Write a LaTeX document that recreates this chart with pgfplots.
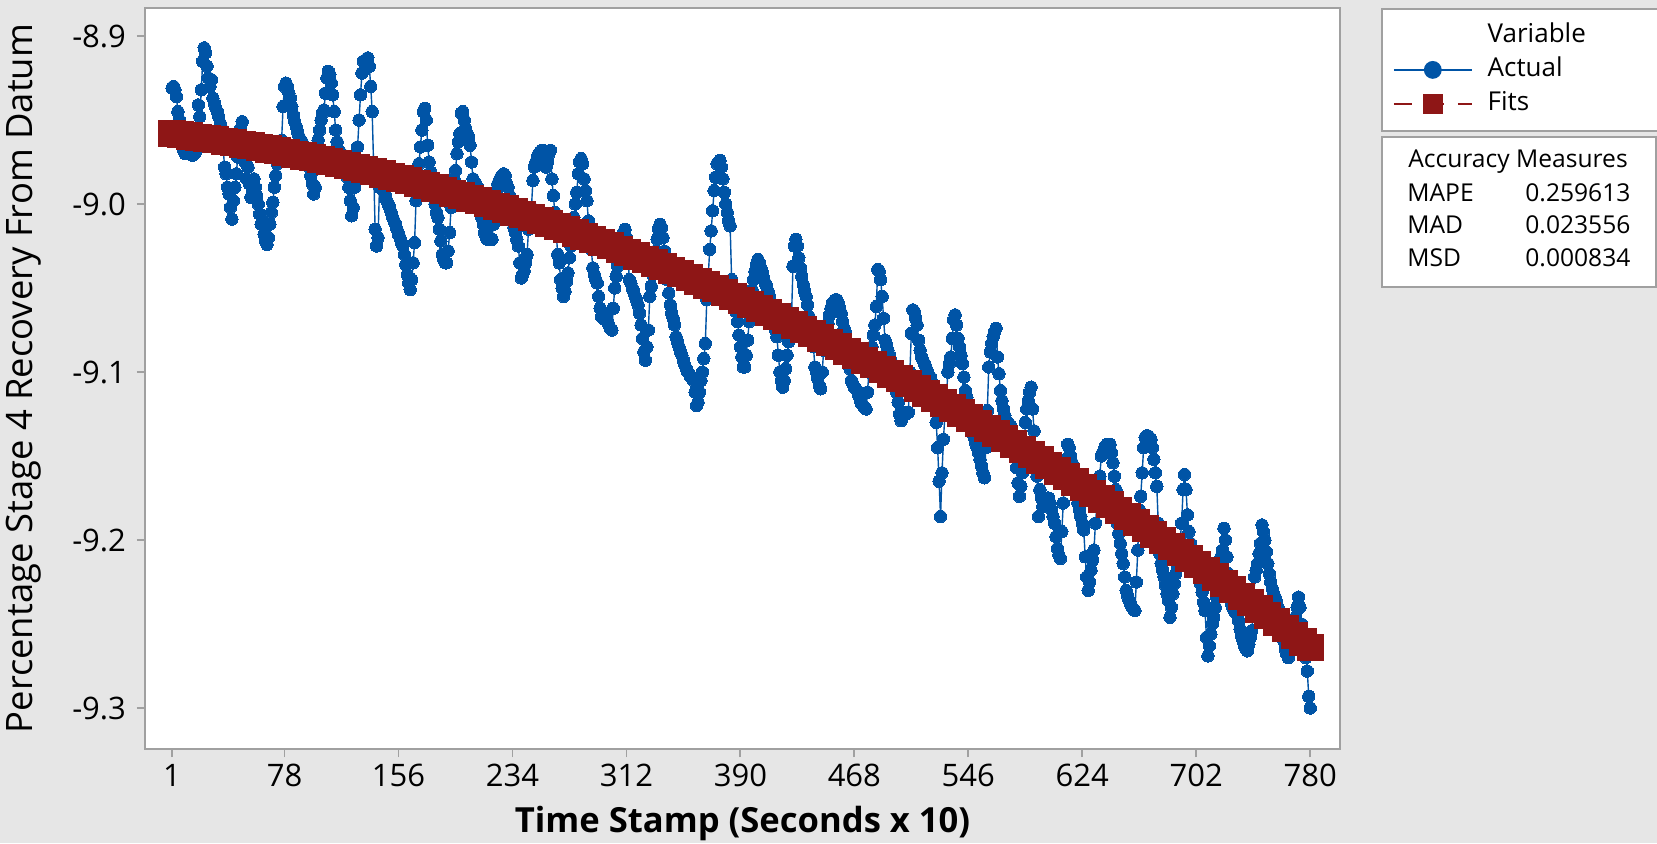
\documentclass[border=0pt]{standalone}
\usepackage{pgfplots}
\pgfplotsset{compat=1.18}
\usepackage{pgfplotstable}
\usepackage{fontspec}
\setmainfont{Open Sans}
\definecolor{bgc}{RGB}{230,230,230}
\definecolor{frm}{RGB}{160,160,160}
\definecolor{mtblue}{RGB}{0,84,166}
\definecolor{mtred}{RGB}{142,22,22}

\pgfplotstableread[header=false,row sep=\\]{
-8.931\\ -8.930\\ -8.932\\ -8.936\\ -8.945\\ -8.950\\ -8.955\\ -8.962\\ -8.968\\ -8.970\\
-8.970\\ -8.969\\ -8.968\\ -8.970\\ -8.971\\ -8.970\\ -8.969\\ -8.962\\ -8.941\\ -8.948\\
-8.932\\ -8.915\\ -8.907\\ -8.910\\ -8.918\\ -8.925\\ -8.930\\ -8.926\\ -8.937\\ -8.940\\
-8.943\\ -8.945\\ -8.948\\ -8.952\\ -8.955\\ -8.967\\ -8.978\\ -8.982\\ -8.990\\ -8.994\\
-9.002\\ -9.009\\ -8.998\\ -8.990\\ -8.982\\ -8.972\\ -8.962\\ -8.955\\ -8.951\\ -8.960\\
-8.975\\ -8.985\\ -8.978\\ -8.988\\ -8.996\\ -8.992\\ -8.985\\ -8.990\\ -8.995\\ -9.000\\
-9.006\\ -9.012\\ -9.010\\ -9.018\\ -9.022\\ -9.024\\ -9.020\\ -9.012\\ -9.005\\ -8.999\\
-8.990\\ -8.983\\ -8.976\\ -8.970\\ -8.965\\ -8.962\\ -8.942\\ -8.930\\ -8.928\\ -8.930\\
-8.934\\ -8.937\\ -8.942\\ -8.947\\ -8.951\\ -8.954\\ -8.957\\ -8.960\\ -8.962\\ -8.963\\
-8.965\\ -8.967\\ -8.968\\ -8.972\\ -8.978\\ -8.983\\ -8.988\\ -8.994\\ -8.990\\ -8.975\\
-8.962\\ -8.956\\ -8.950\\ -8.946\\ -8.944\\ -8.934\\ -8.925\\ -8.921\\ -8.923\\ -8.928\\
-8.935\\ -8.945\\ -8.956\\ -8.963\\ -8.968\\ -8.970\\ -8.970\\ -8.972\\ -8.976\\ -8.980\\
-8.984\\ -8.990\\ -8.998\\ -9.007\\ -9.002\\ -8.990\\ -8.980\\ -8.966\\ -8.950\\ -8.935\\
-8.922\\ -8.915\\ -8.920\\ -8.914\\ -8.913\\ -8.918\\ -8.930\\ -8.945\\ -8.978\\ -9.015\\
-9.025\\ -9.020\\ -8.990\\ -8.985\\ -8.988\\ -8.992\\ -8.995\\ -8.998\\ -9.000\\ -9.002\\
-9.005\\ -9.008\\ -9.010\\ -9.012\\ -9.015\\ -9.018\\ -9.020\\ -9.023\\ -9.025\\ -9.030\\
-9.036\\ -9.042\\ -9.047\\ -9.051\\ -9.045\\ -9.035\\ -9.023\\ -8.998\\ -8.985\\ -8.976\\
-8.966\\ -8.956\\ -8.945\\ -8.943\\ -8.950\\ -8.965\\ -8.975\\ -8.981\\ -8.986\\ -8.995\\
-9.000\\ -9.005\\ -9.008\\ -9.015\\ -9.022\\ -9.030\\ -9.033\\ -9.035\\ -9.035\\ -9.028\\
-9.017\\ -9.002\\ -8.992\\ -8.985\\ -8.980\\ -8.970\\ -8.963\\ -8.958\\ -8.946\\ -8.945\\
-8.950\\ -8.955\\ -8.958\\ -8.960\\ -8.965\\ -8.975\\ -8.985\\ -8.990\\ -8.988\\ -8.990\\
-8.998\\ -9.004\\ -9.008\\ -9.012\\ -9.017\\ -9.020\\ -9.021\\ -9.020\\ -9.021\\ -9.021\\
-9.012\\ -9.000\\ -8.992\\ -8.988\\ -8.986\\ -8.984\\ -8.983\\ -8.982\\ -8.983\\ -8.988\\
-8.990\\ -8.995\\ -9.005\\ -9.010\\ -9.014\\ -9.017\\ -9.021\\ -9.025\\ -9.035\\ -9.044\\
-9.042\\ -9.040\\ -9.035\\ -9.030\\ -9.015\\ -9.008\\ -9.002\\ -8.986\\ -8.978\\ -8.975\\
-8.972\\ -8.970\\ -8.969\\ -8.968\\ -8.968\\ -8.972\\ -8.978\\ -8.975\\ -8.970\\ -8.968\\
-8.985\\ -8.995\\ -9.005\\ -9.018\\ -9.030\\ -9.035\\ -9.045\\ -9.050\\ -9.055\\ -9.052\\
-9.046\\ -9.041\\ -9.032\\ -9.025\\ -9.015\\ -9.008\\ -9.000\\ -8.993\\ -8.982\\ -8.975\\
-8.973\\ -8.976\\ -8.985\\ -8.992\\ -8.998\\ -9.010\\ -9.018\\ -9.027\\ -9.038\\ -9.042\\
-9.045\\ -9.047\\ -9.055\\ -9.062\\ -9.067\\ -9.068\\ -9.066\\ -9.068\\ -9.070\\ -9.072\\
-9.074\\ -9.075\\ -9.062\\ -9.050\\ -9.043\\ -9.037\\ -9.030\\ -9.025\\ -9.021\\ -9.017\\
-9.015\\ -9.020\\ -9.030\\ -9.045\\ -9.047\\ -9.050\\ -9.052\\ -9.055\\ -9.057\\ -9.060\\
-9.065\\ -9.072\\ -9.080\\ -9.088\\ -9.093\\ -9.085\\ -9.075\\ -9.055\\ -9.049\\ -9.042\\
-9.035\\ -9.028\\ -9.021\\ -9.015\\ -9.012\\ -9.014\\ -9.020\\ -9.028\\ -9.035\\ -9.045\\
-9.053\\ -9.060\\ -9.065\\ -9.068\\ -9.072\\ -9.079\\ -9.082\\ -9.085\\ -9.088\\ -9.090\\
-9.093\\ -9.096\\ -9.098\\ -9.100\\ -9.101\\ -9.103\\ -9.104\\ -9.105\\ -9.112\\ -9.120\\
-9.118\\ -9.112\\ -9.105\\ -9.100\\ -9.092\\ -9.083\\ -9.057\\ -9.043\\ -9.027\\ -9.016\\
-9.004\\ -8.992\\ -8.984\\ -8.976\\ -8.975\\ -8.974\\ -8.978\\ -8.985\\ -8.993\\ -9.000\\
-9.005\\ -9.010\\ -9.013\\ -9.045\\ -9.052\\ -9.058\\ -9.064\\ -9.070\\ -9.078\\ -9.085\\
-9.091\\ -9.097\\ -9.097\\ -9.090\\ -9.081\\ -9.070\\ -9.060\\ -9.051\\ -9.045\\ -9.040\\
-9.036\\ -9.033\\ -9.035\\ -9.038\\ -9.041\\ -9.044\\ -9.047\\ -9.049\\ -9.052\\ -9.055\\
-9.061\\ -9.066\\ -9.070\\ -9.075\\ -9.079\\ -9.090\\ -9.100\\ -9.105\\ -9.109\\ -9.105\\
-9.098\\ -9.090\\ -9.082\\ -9.074\\ -9.067\\ -9.037\\ -9.025\\ -9.021\\ -9.025\\ -9.032\\
-9.038\\ -9.043\\ -9.048\\ -9.052\\ -9.055\\ -9.060\\ -9.067\\ -9.070\\ -9.071\\ -9.085\\
-9.097\\ -9.100\\ -9.104\\ -9.108\\ -9.110\\ -9.100\\ -9.087\\ -9.080\\ -9.075\\ -9.071\\
-9.066\\ -9.062\\ -9.059\\ -9.058\\ -9.057\\ -9.057\\ -9.059\\ -9.062\\ -9.065\\ -9.070\\
-9.074\\ -9.077\\ -9.082\\ -9.090\\ -9.098\\ -9.105\\ -9.107\\ -9.109\\ -9.110\\ -9.111\\
-9.114\\ -9.117\\ -9.119\\ -9.120\\ -9.121\\ -9.122\\ -9.112\\ -9.100\\ -9.092\\ -9.085\\
-9.078\\ -9.072\\ -9.061\\ -9.039\\ -9.040\\ -9.045\\ -9.055\\ -9.068\\ -9.081\\ -9.084\\
-9.087\\ -9.090\\ -9.093\\ -9.095\\ -9.100\\ -9.105\\ -9.112\\ -9.118\\ -9.125\\ -9.129\\
-9.126\\ -9.124\\ -9.125\\ -9.124\\ -9.124\\ -9.100\\ -9.077\\ -9.063\\ -9.064\\ -9.068\\
-9.072\\ -9.081\\ -9.087\\ -9.091\\ -9.093\\ -9.095\\ -9.097\\ -9.100\\ -9.102\\ -9.103\\
-9.106\\ -9.110\\ -9.120\\ -9.130\\ -9.145\\ -9.165\\ -9.186\\ -9.160\\ -9.140\\ -9.125\\
-9.115\\ -9.100\\ -9.095\\ -9.091\\ -9.080\\ -9.069\\ -9.066\\ -9.072\\ -9.080\\ -9.085\\
-9.090\\ -9.095\\ -9.103\\ -9.111\\ -9.115\\ -9.119\\ -9.123\\ -9.128\\ -9.134\\ -9.139\\
-9.142\\ -9.145\\ -9.148\\ -9.152\\ -9.156\\ -9.160\\ -9.163\\ -9.145\\ -9.123\\ -9.097\\
-9.088\\ -9.083\\ -9.079\\ -9.076\\ -9.074\\ -9.091\\ -9.101\\ -9.111\\ -9.117\\ -9.122\\
-9.126\\ -9.129\\ -9.130\\ -9.131\\ -9.132\\ -9.138\\ -9.143\\ -9.148\\ -9.157\\ -9.166\\
-9.174\\ -9.168\\ -9.160\\ -9.154\\ -9.130\\ -9.122\\ -9.117\\ -9.112\\ -9.109\\ -9.122\\
-9.135\\ -9.150\\ -9.162\\ -9.186\\ -9.170\\ -9.175\\ -9.180\\ -9.178\\ -9.176\\ -9.175\\
-9.175\\ -9.178\\ -9.182\\ -9.186\\ -9.190\\ -9.198\\ -9.205\\ -9.209\\ -9.211\\ -9.195\\
-9.178\\ -9.162\\ -9.152\\ -9.143\\ -9.145\\ -9.150\\ -9.154\\ -9.158\\ -9.166\\ -9.174\\
-9.178\\ -9.182\\ -9.186\\ -9.190\\ -9.194\\ -9.210\\ -9.222\\ -9.230\\ -9.225\\ -9.218\\
-9.212\\ -9.206\\ -9.190\\ -9.180\\ -9.172\\ -9.162\\ -9.150\\ -9.148\\ -9.146\\ -9.144\\
-9.143\\ -9.143\\ -9.143\\ -9.148\\ -9.154\\ -9.162\\ -9.170\\ -9.190\\ -9.196\\ -9.202\\
-9.208\\ -9.214\\ -9.222\\ -9.230\\ -9.233\\ -9.236\\ -9.238\\ -9.240\\ -9.241\\ -9.242\\
-9.225\\ -9.206\\ -9.182\\ -9.174\\ -9.160\\ -9.145\\ -9.139\\ -9.138\\ -9.138\\ -9.139\\
-9.140\\ -9.145\\ -9.152\\ -9.160\\ -9.168\\ -9.190\\ -9.208\\ -9.214\\ -9.218\\ -9.222\\
-9.227\\ -9.232\\ -9.236\\ -9.246\\ -9.240\\ -9.232\\ -9.226\\ -9.220\\ -9.215\\ -9.210\\
-9.200\\ -9.190\\ -9.170\\ -9.161\\ -9.170\\ -9.185\\ -9.195\\ -9.202\\ -9.205\\ -9.208\\
-9.212\\ -9.216\\ -9.219\\ -9.222\\ -9.226\\ -9.231\\ -9.237\\ -9.242\\ -9.258\\ -9.269\\
-9.263\\ -9.256\\ -9.250\\ -9.246\\ -9.240\\ -9.234\\ -9.224\\ -9.214\\ -9.210\\ -9.206\\
-9.193\\ -9.200\\ -9.210\\ -9.220\\ -9.230\\ -9.238\\ -9.240\\ -9.242\\ -9.243\\ -9.244\\
-9.248\\ -9.253\\ -9.257\\ -9.260\\ -9.263\\ -9.265\\ -9.266\\ -9.262\\ -9.258\\ -9.254\\
-9.242\\ -9.222\\ -9.218\\ -9.214\\ -9.208\\ -9.202\\ -9.191\\ -9.195\\ -9.200\\ -9.207\\
-9.214\\ -9.220\\ -9.225\\ -9.229\\ -9.232\\ -9.234\\ -9.237\\ -9.240\\ -9.242\\ -9.248\\
-9.255\\ -9.260\\ -9.265\\ -9.268\\ -9.270\\ -9.266\\ -9.262\\ -9.258\\ -9.254\\ -9.246\\
-9.240\\ -9.234\\ -9.240\\ -9.250\\ -9.256\\ -9.262\\ -9.270\\ -9.278\\ -9.293\\ -9.300\\
}\actualdata

\pgfplotstableread[row sep=\\]{
t fit\\
1 -8.9580\\ 7 -8.9587\\ 13 -8.9595\\ 19 -8.9602\\ 25 -8.9610\\ 31 -8.9618\\ 37 -8.9627\\ 43 -8.9635\\ 49 -8.9644\\ 55 -8.9653\\
61 -8.9663\\ 67 -8.9672\\ 73 -8.9682\\ 79 -8.9693\\ 85 -8.9703\\ 91 -8.9714\\ 97 -8.9725\\ 103 -8.9736\\ 109 -8.9747\\ 115 -8.9759\\
121 -8.9771\\ 127 -8.9783\\ 133 -8.9796\\ 139 -8.9808\\ 145 -8.9821\\ 151 -8.9835\\ 157 -8.9848\\ 163 -8.9862\\ 169 -8.9876\\ 175 -8.9890\\
181 -8.9905\\ 187 -8.9920\\ 193 -8.9935\\ 199 -8.9950\\ 205 -8.9965\\ 211 -8.9981\\ 217 -8.9997\\ 223 -9.0014\\ 229 -9.0030\\ 235 -9.0047\\
241 -9.0064\\ 247 -9.0081\\ 253 -9.0099\\ 259 -9.0117\\ 265 -9.0135\\ 271 -9.0153\\ 277 -9.0172\\ 283 -9.0191\\ 289 -9.0210\\ 295 -9.0229\\
301 -9.0249\\ 307 -9.0269\\ 313 -9.0289\\ 319 -9.0309\\ 325 -9.0330\\ 331 -9.0351\\ 337 -9.0372\\ 343 -9.0394\\ 349 -9.0415\\ 355 -9.0437\\
361 -9.0459\\ 367 -9.0482\\ 373 -9.0504\\ 379 -9.0527\\ 385 -9.0551\\ 391 -9.0574\\ 397 -9.0598\\ 403 -9.0622\\ 409 -9.0646\\ 415 -9.0670\\
421 -9.0695\\ 427 -9.0720\\ 433 -9.0745\\ 439 -9.0771\\ 445 -9.0797\\ 451 -9.0823\\ 457 -9.0849\\ 463 -9.0876\\ 469 -9.0902\\ 475 -9.0929\\
481 -9.0957\\ 487 -9.0984\\ 493 -9.1012\\ 499 -9.1040\\ 505 -9.1068\\ 511 -9.1097\\ 517 -9.1126\\ 523 -9.1155\\ 529 -9.1184\\ 535 -9.1214\\
541 -9.1244\\ 547 -9.1274\\ 553 -9.1304\\ 559 -9.1335\\ 565 -9.1366\\ 571 -9.1397\\ 577 -9.1428\\ 583 -9.1460\\ 589 -9.1492\\ 595 -9.1524\\
601 -9.1556\\ 607 -9.1589\\ 613 -9.1622\\ 619 -9.1655\\ 625 -9.1688\\ 631 -9.1722\\ 637 -9.1756\\ 643 -9.1790\\ 649 -9.1825\\ 655 -9.1859\\
661 -9.1894\\ 667 -9.1929\\ 673 -9.1965\\ 679 -9.2001\\ 685 -9.2037\\ 691 -9.2073\\ 697 -9.2109\\ 703 -9.2146\\ 709 -9.2183\\ 715 -9.2220\\
721 -9.2258\\ 727 -9.2296\\ 733 -9.2334\\ 739 -9.2372\\ 745 -9.2410\\ 751 -9.2449\\ 757 -9.2488\\ 763 -9.2527\\ 769 -9.2567\\ 775 -9.2607\\
780 -9.2640\\
}\fitdata

\begin{document}
\begin{tikzpicture}
\useasboundingbox (-72.5pt,-47pt) rectangle (756pt,374.5pt);
\fill[bgc] (-72.5pt,-47pt) rectangle (756pt,374.5pt);
\begin{axis}[
  name=ax,
  at={(0pt,0pt)}, anchor=south west,
  scale only axis, width=597.5pt, height=370.5pt,
  xmin=-17.5, xmax=800.4, ymin=-9.3244, ymax=-8.8833,
  axis background/.style={fill=white},
  axis line style={draw=frm, line width=0.9pt},
  tick style={draw=frm, line width=0.9pt},
  tick align=outside, major tick length=4pt,
  xtick pos=bottom, ytick pos=left,
  xtick={1,78,156,234,312,390,468,546,624,702,780},
  ytick={-9.3,-9.2,-9.1,-9.0,-8.9},
  /pgf/number format/assume math mode=true,
  yticklabel style={/pgf/number format/fixed, /pgf/number format/fixed zerofill, /pgf/number format/precision=1, xshift=-2pt},
  ticklabel style={font=\fontsize{15.5}{17}\selectfont, text=black},
  xlabel={\bfseries Time Stamp (Seconds x 10)},
  ylabel={Percentage Stage 4 Recovery From Datum},
  xlabel style={at={(axis description cs:0.5,-0.1)}, anchor=center, font=\fontsize{17.3}{20}\selectfont, text=black},
  ylabel style={at={(axis description cs:-0.1013,0.5)}, anchor=center, font=\fontsize{18.2}{20}\selectfont, text=black},
  legend cell align=left,
  legend style={at={(axis description cs:1.0343,1)}, anchor=north west, draw=frm, line width=0.9pt, fill=white,
    inner xsep=5.5pt, inner ysep=7.75pt, row sep=5.5pt, column sep=7.5pt,
    nodes={inner sep=0pt, text height=9pt, text depth=2.5pt, text=black},
    font=\fontsize{13}{15}\selectfont},
  legend image code/.code={\draw[mark repeat=2,mark phase=2,#1] plot coordinates {(0pt,0pt) (19.5pt,0pt) (39pt,0pt)};},
]
\addplot[mtblue, line width=0.7pt, mark=*, mark size=3.1pt, mark options={draw=mtblue, fill=mtblue, line width=0pt}, forget plot]
  table[x expr=\coordindex+1, y index=0] {\actualdata};
\addplot[mtred, line width=7pt, mark=square*, mark size=3.3pt, mark options={fill=mtred, draw=none}, forget plot]
  table[x=t, y=fit] {\fitdata};
\addlegendimage{empty legend}
\addlegendentry{\makebox[80pt][l]{Variable}}
\addlegendimage{mtblue, line width=0.9pt, mark=*, mark size=4pt}
\addlegendentry{Actual}
\addlegendimage{mtred, line width=0.9pt, dash pattern=on 9pt off 7pt, mark=square*, mark size=4.5pt, mark options={solid}}
\addlegendentry{Fits}
\end{axis}
\node[draw=frm, line width=0.9pt, fill=white, minimum width=137pt, minimum height=75pt, inner sep=0pt, anchor=north west] (acc) at (618pt,306.5pt) {};
\begin{scope}[every node/.style={font=\fontsize{12.3}{15}\selectfont, inner sep=0pt, text=black}]
\node[anchor=center] at ([xshift=68.5pt,yshift=-13pt]acc.north west) {Accuracy Measures};
\node[anchor=west] at ([xshift=13pt,yshift=-28.5pt]acc.north west) {MAPE};
\node[anchor=west] at ([xshift=13pt,yshift=-44.5pt]acc.north west) {MAD};
\node[anchor=west] at ([xshift=13pt,yshift=-61pt]acc.north west) {MSD};
\node[anchor=east] at ([xshift=-13pt,yshift=-28.5pt]acc.north east) {0.259613};
\node[anchor=east] at ([xshift=-13pt,yshift=-44.5pt]acc.north east) {0.023556};
\node[anchor=east] at ([xshift=-13pt,yshift=-61pt]acc.north east) {0.000834};
\end{scope}
\end{tikzpicture}
\end{document}
